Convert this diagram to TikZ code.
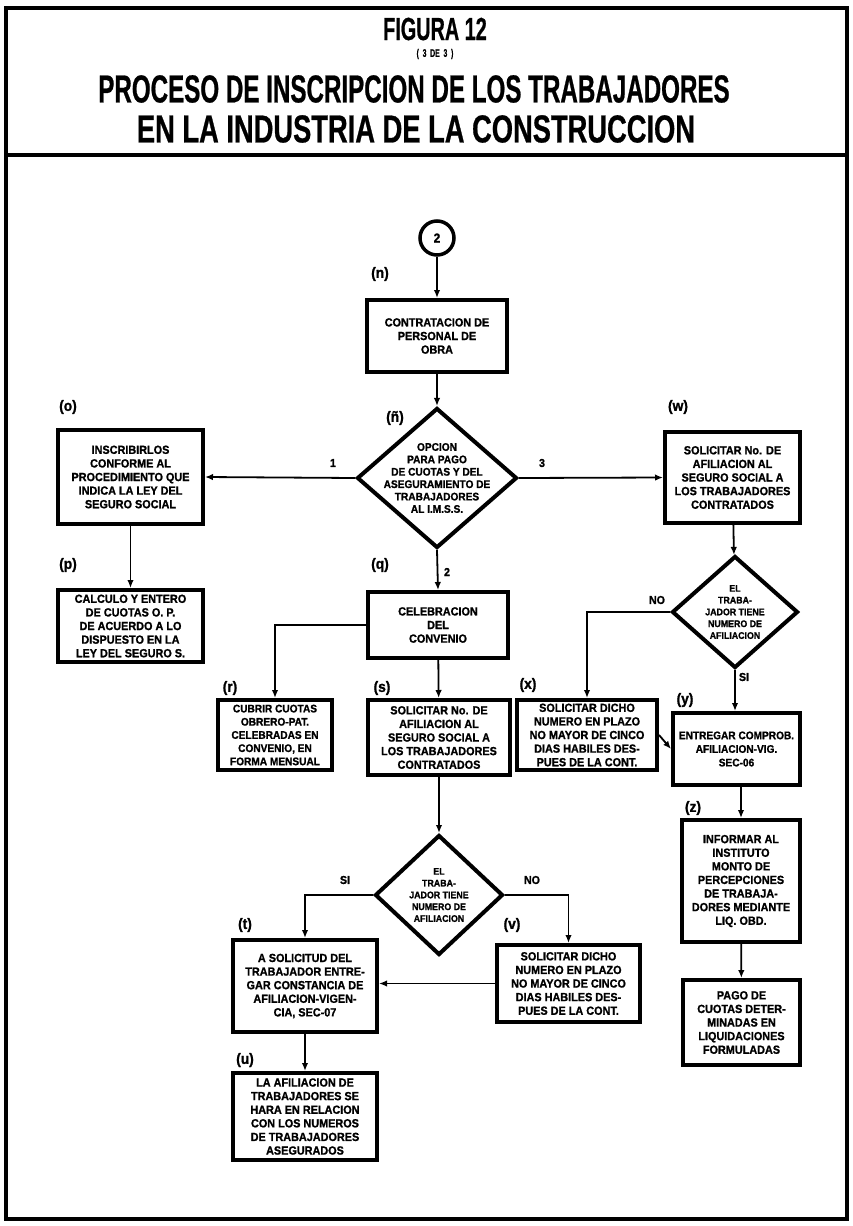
\documentclass[tikz,border=0pt]{standalone}
\usepackage{fontspec}
\setmainfont{Liberation Sans}
\newfontfamily\titlefont{Liberation Sans}[FakeStretch=0.62, FakeBold=0.6]
\newfontfamily\titlefontb{Liberation Sans}[FakeStretch=0.70, FakeBold=0.6]
\newfontfamily\boxfont{Liberation Sans}[FakeStretch=0.92, FakeBold=1.2]
\usetikzlibrary{shapes.geometric, arrows.meta}

\tikzset{
  proc/.style={draw, line width=4pt, align=center, inner sep=1pt,
    font=\boxfont\bfseries\fontsize{11.8}{13.6}\selectfont},
  decision/.style={draw, diamond, line width=4pt, inner sep=0pt},
  dtext/.style={align=center, font=\boxfont\bfseries\fontsize{11}{12.4}\selectfont},
  stext/.style={align=center, font=\boxfont\bfseries\fontsize{9.6}{11.8}\selectfont},
  tag/.style={font=\boxfont\bfseries\fontsize{15}{15}\selectfont},
  branch/.style={font=\boxfont\bfseries\fontsize{11.5}{11.5}\selectfont},
  flow/.style={line width=1.8pt, -{Latex[length=8pt,width=6.5pt]}},
}

\begin{document}
\begin{tikzpicture}[x=1pt, y=-1pt]
  \useasboundingbox (0,0) rectangle (852,1226);
  % frame and title
  \draw[line width=4pt] (6,8) rectangle (847,1219);
  \draw[line width=4.5pt] (6,155) -- (847,155);
  \node[inner sep=0pt, font=\titlefont\bfseries\fontsize{32}{32}\selectfont] (fig) at (435,29) {FIGURA 12};
  \node[inner sep=0pt, font=\titlefont\bfseries\fontsize{11}{11}\selectfont] (part) at (435,54) {(\ \ 3\ \ DE\ \ 3\ \ )};
  \node[font=\titlefont\bfseries\fontsize{39}{39}\selectfont] (title1) at (414,89) {PROCESO DE INSCRIPCION DE LOS TRABAJADORES};
  \node[font=\titlefontb\bfseries\fontsize{39}{39}\selectfont] (title2) at (416,129) {EN LA INDUSTRIA DE LA CONSTRUCCION};

  % central column
  \node[draw, circle, line width=3.5pt, minimum size=34pt, inner sep=0pt,
        font=\boxfont\bfseries\fontsize{13}{13}\selectfont] (conn2) at (437,238) {2};
  \node[tag] (tagN) at (380,274) {(n)};
  \node[proc, minimum width=140pt, minimum height=72pt] (contrata) at (437,336)
    {CONTRATACION DE\\PERSONAL DE\\OBRA};
  \node[tag] (tagNn) at (395,418) {(ñ)};
  \node[decision, minimum width=160pt, minimum height=140pt,
        label={[dtext]center:{OPCION\\PARA PAGO\\DE CUOTAS Y DEL\\ASEGURAMIENTO DE\\TRABAJADORES\\AL I.M.S.S.}}]
        (opcion) at (437,478) {};
  \node[tag] (tagQ) at (380,565) {(q)};
  \node[proc, minimum width=140pt, minimum height=66pt] (convenio) at (438,625)
    {CELEBRACION\\DEL\\CONVENIO};
  \node[tag] (tagS) at (382,688) {(s)};
  \node[proc, minimum width=142pt, minimum height=75pt] (solicS) at (439,737.5)
    {SOLICITAR No. DE\\AFILIACION AL\\SEGURO SOCIAL A\\LOS TRABAJADORES\\CONTRATADOS};
  \node[decision, minimum width=128pt, minimum height=120pt,
        label={[stext]center:{EL\\TRABA-\\JADOR TIENE\\NUMERO DE\\AFILIACION}}]
        (tieneS) at (439,895) {};
  \node[tag] (tagR) at (230,688) {(r)};
  \node[proc, minimum width=114pt, minimum height=70pt,
        font=\boxfont\bfseries\fontsize{11}{13.2}\selectfont] (cubrir) at (275,735)
    {CUBRIR CUOTAS\\OBRERO-PAT.\\CELEBRADAS EN\\CONVENIO, EN\\FORMA MENSUAL};

  % left column
  \node[tag] (tagO) at (68,407) {(o)};
  \node[proc, minimum width=145pt, minimum height=94pt] (inscribir) at (130.5,477)
    {INSCRIBIRLOS\\CONFORME AL\\PROCEDIMIENTO QUE\\INDICA LA LEY DEL\\SEGURO SOCIAL};
  \node[tag] (tagP) at (68,565) {(p)};
  \node[proc, minimum width=145pt, minimum height=72pt] (calculo) at (130.5,626)
    {CALCULO Y ENTERO\\DE CUOTAS O. P.\\DE ACUERDO A LO\\DISPUESTO EN LA\\LEY DEL SEGURO S.};

  % lower branch
  \node[tag] (tagT) at (245,925) {(t)};
  \node[proc, minimum width=144pt, minimum height=92pt] (entregaT) at (305,986)
    {A SOLICITUD DEL\\TRABAJADOR ENTRE-\\GAR CONSTANCIA DE\\AFILIACION-VIGEN-\\CIA, SEC-07};
  \node[tag] (tagU) at (245,1060) {(u)};
  \node[proc, minimum width=144pt, minimum height=87pt] (afiliaU) at (305,1116.5)
    {LA AFILIACION DE\\TRABAJADORES SE\\HARA EN RELACION\\CON LOS NUMEROS\\DE TRABAJADORES\\ASEGURADOS};
  \node[tag] (tagV) at (512,925) {(v)};
  \node[proc, minimum width=143pt, minimum height=77pt] (plazoV) at (568.5,983.5)
    {SOLICITAR DICHO\\NUMERO EN PLAZO\\NO MAYOR DE CINCO\\DIAS HABILES DES-\\PUES DE LA CONT.};

  % right column
  \node[tag] (tagW) at (678,407) {(w)};
  \node[proc, minimum width=135pt, minimum height=91pt] (solicW) at (732.5,477.5)
    {SOLICITAR No. DE\\AFILIACION AL\\SEGURO SOCIAL A\\LOS TRABAJADORES\\CONTRATADOS};
  \node[decision, minimum width=126pt, minimum height=112pt,
        label={[stext]center:{EL\\TRABA-\\JADOR TIENE\\NUMERO DE\\AFILIACION}}]
        (tieneW) at (735,612) {};
  \node[tag] (tagX) at (528,685) {(x)};
  \node[proc, minimum width=140pt, minimum height=70pt] (plazoX) at (587,735)
    {SOLICITAR DICHO\\NUMERO EN PLAZO\\NO MAYOR DE CINCO\\DIAS HABILES DES-\\PUES DE LA CONT.};
  \node[tag] (tagY) at (685,700) {(y)};
  \node[proc, minimum width=127pt, minimum height=72pt,
        font=\boxfont\bfseries\fontsize{11}{13.6}\selectfont] (comprobY) at (736.5,749)
    {ENTREGAR COMPROB.\\AFILIACION-VIG.\\SEC-06};
  \node[tag] (tagZ) at (693,808) {(z)};
  \node[proc, minimum width=118pt, minimum height=122pt] (informaZ) at (741,881)
    {INFORMAR AL\\INSTITUTO\\MONTO DE\\PERCEPCIONES\\DE TRABAJA-\\DORES MEDIANTE\\LIQ. OBD.};
  \node[proc, minimum width=117pt, minimum height=85pt] (pago) at (741.5,1022.5)
    {PAGO DE\\CUOTAS DETER-\\MINADAS EN\\LIQUIDACIONES\\FORMULADAS};

  % connectors
  \draw[flow] (conn2) -- (contrata);
  \draw[flow] (contrata) -- (opcion);
  \draw[flow] (opcion.west) -- (inscribir.east);
  \draw[flow] (opcion.east) -- (solicW.west);
  \draw[flow] (opcion.south) -- (convenio.north);
  \draw[flow] (inscribir) -- (calculo);
  \draw[flow] (convenio.west) -| (cubrir.north);
  \draw[flow] (convenio) -- (solicS);
  \draw[flow] (solicS) -- (tieneS);
  \draw[flow] (tieneS.west) -| (entregaT.north);
  \draw[flow] (tieneS.east) -| (plazoV.north);
  \draw[flow] (plazoV.west) -- (plazoV.west -| entregaT.east);
  \draw[flow] (entregaT) -- (afiliaU);
  \draw[flow] (solicW) -- (tieneW);
  \draw[flow] (tieneW.west) -| (plazoX.north);
  \draw[flow] (tieneW.south) -- (tieneW.south |- comprobY.north);
  \draw[flow] (plazoX.east) -- (comprobY.west);
  \draw[flow] (comprobY.south -| informaZ.north) -- (informaZ.north);
  \draw[flow] (informaZ) -- (pago);

  % branch labels
  \node[branch] (opt1) at (333,463) {1};
  \node[branch] (opt2) at (447,572) {2};
  \node[branch] (opt3) at (542,463) {3};
  \node[branch] (noW) at (657,600) {NO};
  \node[branch] (siW) at (744,677) {SI};
  \node[branch] (siS) at (345,880) {SI};
  \node[branch] (noS) at (532,880) {NO};
\end{tikzpicture}
\end{document}
